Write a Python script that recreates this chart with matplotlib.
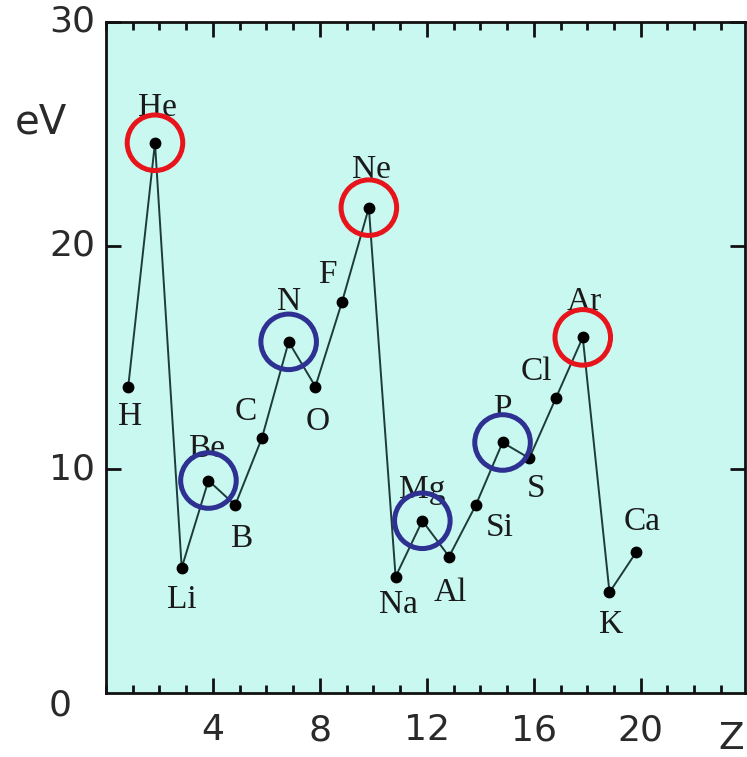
import matplotlib.pyplot as plt
from matplotlib.ticker import MultipleLocator
from matplotlib.transforms import offset_copy

# first ionization energy (eV) vs atomic number
z = list(range(1, 21))
symbols = ["H", "He", "Li", "Be", "B", "C", "N", "O", "F", "Ne",
           "Na", "Mg", "Al", "Si", "P", "S", "Cl", "Ar", "K", "Ca"]
energy = [13.7, 24.6, 5.6, 9.5, 8.4, 11.4, 15.7, 13.7, 17.5, 21.7,
          5.2, 7.7, 6.1, 8.4, 11.2, 10.5, 13.2, 15.9, 4.5, 6.3]

noble = ["He", "Ne", "Ar"]
special = ["Be", "N", "Mg", "P"]

# label offsets in points (dx, dy) relative to each point
label_offsets = {
    "H": (1, -22), "He": (2, 25), "Li": (0, -23), "Be": (-1, 23),
    "B": (4, -24), "C": (-12, 19), "N": (0, 29), "O": (2, -25),
    "F": (-11, 19), "Ne": (2, 27), "Na": (2, -20), "Mg": (0, 22),
    "Al": (1, -26), "Si": (17, -16), "P": (0, 24), "S": (5, -22),
    "Cl": (-14, 19), "Ar": (1, 26), "K": (1, -23), "Ca": (4, 22),
}

fig = plt.figure(figsize=(7.47, 7.57), dpi=100)
ax = fig.add_axes([106 / 747, 64 / 757, 639 / 747, 671 / 757])
ax.set_facecolor("#c8f8f0")

# the original drawing sits a few pixels left of its tick marks
shifted = offset_copy(ax.transData, fig=fig, x=-4.5, y=0, units="dots")

ax.plot(z, energy, color="#1e3b3b", linewidth=1.4, marker="o",
        markersize=7.5, markerfacecolor="black", markeredgecolor="black",
        zorder=3, transform=shifted)

for sym, zz, e in zip(symbols, z, energy):
    ax.annotate(sym, (zz, e), xycoords=shifted, xytext=label_offsets[sym],
                textcoords="offset points", ha="center", va="center",
                fontsize=24, family="Liberation Serif", color="#1a1a1a")

for sym, zz, e in zip(symbols, z, energy):
    if sym in noble:
        ax.scatter(zz, e, s=1600, facecolors="none", edgecolors="#e8141b",
                   linewidths=3.6, zorder=4, transform=shifted)
    elif sym in special:
        ax.scatter(zz, e, s=1600, facecolors="none", edgecolors="#2e3192",
                   linewidths=3.6, zorder=4, transform=shifted)

ax.set_xlim(0, 23.9)
ax.set_ylim(0, 30)
ax.xaxis.set_minor_locator(MultipleLocator(1))
ax.set_xticks([4, 8, 12, 16, 20])
ax.set_yticks([10, 20, 30])

ax.tick_params(which="both", direction="in", top=True, right=True,
               width=2, color="#111111")
ax.tick_params(which="major", length=11)
ax.tick_params(which="minor", length=6)
ax.tick_params(axis="both", labelsize=26, labelcolor="#2a2a2a")
ax.tick_params(axis="x", pad=27)
ax.tick_params(axis="y", pad=8)
for lab in ax.get_xticklabels() + ax.get_yticklabels():
    lab.set_family("DejaVu Sans")
    lab.set_verticalalignment("center")

# the origin label sits low and left of the corner
fig.text(60 / 747, 1 - 705 / 757, "0", fontsize=26, ha="center",
         va="center", color="#2a2a2a", family="DejaVu Sans")
fig.text(41 / 747, 1 - 122 / 757, "eV", fontsize=29, ha="center",
         va="center", color="#2a2a2a", family="DejaVu Sans")
fig.text(731 / 747, 1 - 739 / 757, "Z", fontsize=27, ha="center",
         va="center", color="#2a2a2a", family="DejaVu Sans")

for sp in ax.spines.values():
    sp.set_linewidth(2)
    sp.set_color("#111111")

fig.savefig("out.png", dpi=100)
